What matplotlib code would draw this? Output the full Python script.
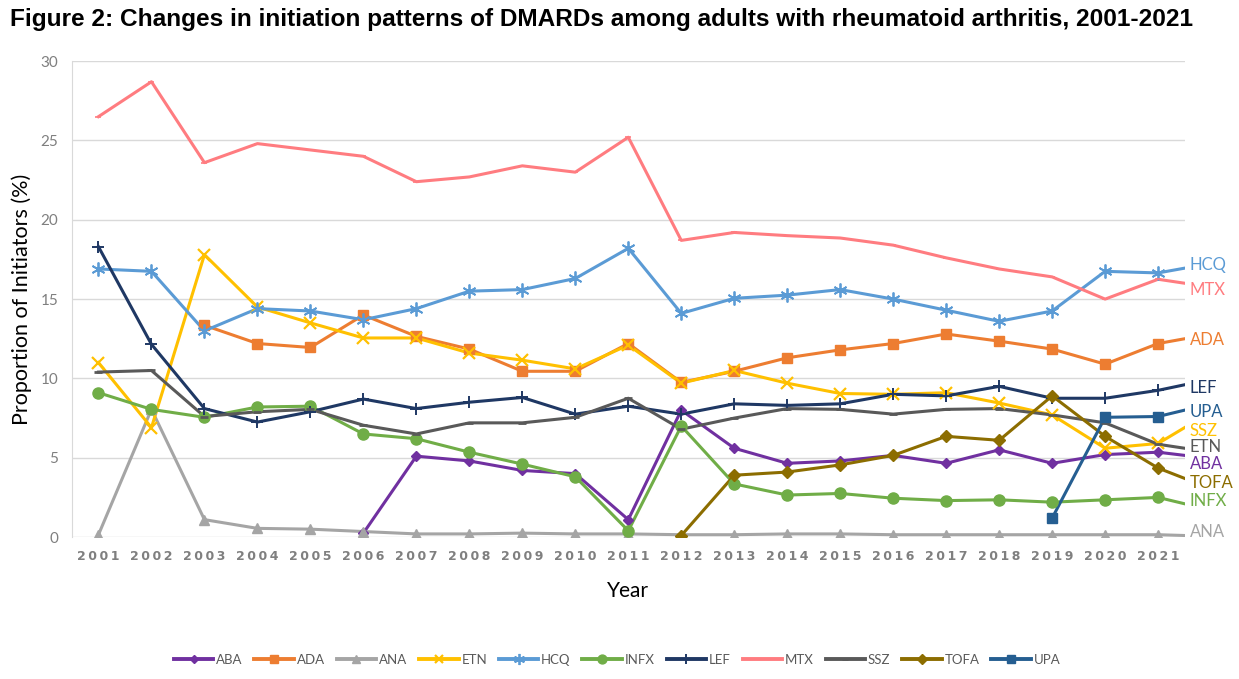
import numpy as np
import matplotlib
matplotlib.use('Agg')
import matplotlib.pyplot as plt

# values (proportion of initiators, %)
years = list(range(2001, 2022))

ABA = [None] * 5 + [0.25, 5.1, 4.8, 4.2, 4.0, 1.1, 8.0, 5.6, 4.65, 4.8, 5.15, 4.65, 5.5, 4.65, 5.2, 5.35]
ADA = [None] * 2 + [13.35, 12.2, 11.95, 14.0, 12.65, 11.85, 10.45, 10.45, 12.2, 9.75, 10.45, 11.3, 11.8,
                    12.2, 12.8, 12.35, 11.85, 10.9, 12.2]
ANA = [0.15, 8.05, 1.1, 0.55, 0.5, 0.35, 0.2, 0.2, 0.25, 0.2, 0.2, 0.15, 0.15, 0.2, 0.2, 0.15, 0.15,
       0.15, 0.15, 0.15, 0.15]
ETN = [11.0, 6.9, 17.8, 14.5, 13.5, 12.55, 12.55, 11.6, 11.15, 10.6, 12.1, 9.7, 10.5, 9.7, 9.05, 9.0,
       9.1, 8.45, 7.7, 5.6, 5.9]
HCQ = [16.9, 16.75, 13.0, 14.4, 14.25, 13.7, 14.4, 15.5, 15.6, 16.3, 18.2, 14.1, 15.05, 15.25, 15.6,
       15.0, 14.3, 13.6, 14.25, 16.75, 16.65]
INFX = [9.1, 8.05, 7.55, 8.2, 8.25, 6.5, 6.2, 5.35, 4.6, 3.8, 0.4, 7.0, 3.35, 2.65, 2.75, 2.45, 2.3,
        2.35, 2.2, 2.35, 2.5]
LEF = [18.3, 12.15, 8.1, 7.25, 7.9, 8.7, 8.1, 8.5, 8.8, 7.75, 8.25, 7.75, 8.4, 8.3, 8.4, 9.0, 8.9,
       9.5, 8.75, 8.75, 9.25]
MTX = [26.5, 28.7, 23.6, 24.8, 24.4, 24.0, 22.4, 22.7, 23.4, 23.0, 25.2, 18.7, 19.2, 19.0, 18.85,
       18.4, 17.6, 16.9, 16.4, 15.0, 16.25]
SSZ = [10.4, 10.5, 7.6, 7.9, 8.05, 7.05, 6.5, 7.2, 7.2, 7.55, 8.75, 6.8, 7.5, 8.1, 8.05, 7.75, 8.05,
       8.1, 7.7, 7.2, 5.85]
TOFA = [None] * 11 + [0.1, 3.9, 4.1, 4.55, 5.15, 6.35, 6.1, 8.9, 6.35, 4.35]
UPA = [None] * 18 + [1.2, 7.55, 7.6]

# each line runs on a little past 2021 to the right edge, where the label sits
tail_x = 2021.5
tail = {'ABA': 5.15, 'ADA': 12.5, 'ANA': 0.1, 'ETN': 6.9, 'HCQ': 16.95, 'INFX': 2.1, 'LEF': 9.6,
        'MTX': 16.0, 'SSZ': 5.6, 'TOFA': 3.7, 'UPA': 8.0}

series = {'ABA': ABA, 'ADA': ADA, 'ANA': ANA, 'ETN': ETN, 'HCQ': HCQ, 'INFX': INFX,
          'LEF': LEF, 'MTX': MTX, 'SSZ': SSZ, 'TOFA': TOFA, 'UPA': UPA}

styles = {
    'ABA': dict(color='#7030A0', marker='D', ms=5.5),
    'ADA': dict(color='#ED7D31', marker='s', ms=7.5),
    'ANA': dict(color='#A5A5A5', marker='^', ms=7.5),
    'ETN': dict(color='#FFC000', marker='x', ms=8, mew=1.6),
    'HCQ': dict(color='#5B9BD5', marker=(6, 2, 0), ms=10, mew=1.3),
    'INFX': dict(color='#70AD47', marker='o', ms=8),
    'LEF': dict(color='#1F3864', marker='+', ms=9, mew=1.4),
    'MTX': dict(color='#FF7C80', marker='_', ms=4, mew=1.2),
    'SSZ': dict(color='#595959', marker='_', ms=6, mew=2),
    'TOFA': dict(color='#8C6D00', marker='D', ms=6),
    'UPA': dict(color='#255E91', marker='s', ms=7.5),
}

# right-hand labels as placed in the original (note SSZ/ETN text swapped there)
end_labels = [('HCQ', 17.15, '#5B9BD5'), ('MTX', 15.55, '#FF7C80'), ('ADA', 12.4, '#ED7D31'),
              ('LEF', 9.4, '#1F3864'), ('UPA', 7.9, '#255E91'), ('SSZ', 6.7, '#FFC000'),
              ('ETN', 5.65, '#595959'), ('ABA', 4.6, '#7030A0'), ('TOFA', 3.4, '#8C6D00'),
              ('INFX', 2.3, '#70AD47'), ('ANA', 0.3, '#A5A5A5')]

plt.rcParams['font.family'] = ['Lato', 'DejaVu Sans']

fig = plt.figure(figsize=(12.39, 6.79), dpi=100)
ax = fig.add_axes([0.0581, 0.209, 0.898, 0.701])

for name, vals in series.items():
    x = [y for y, v in zip(years, vals) if v is not None]
    y = [v for v in vals if v is not None]
    st = styles[name]
    ax.plot(x + [tail_x], y + [tail[name]], color=st['color'], lw=2.2, zorder=3)
    ax.plot(x, y, linestyle='none', marker=st['marker'], ms=st['ms'], color=st['color'],
            mew=st.get('mew', 1), zorder=4)
    # legend proxy
    ax.plot([], [], color=st['color'], lw=2.8, marker=st['marker'], ms=st['ms'] * 0.8,
            mew=st.get('mew', 1), label=name)

for text, yv, col in end_labels:
    ax.text(2021.6, yv, text, color=col, fontsize=12, va='center', ha='left', clip_on=False)

ax.set_xlim(2000.5, 2021.5)
ax.set_ylim(0, 30)
ax.set_yticks([0, 5, 10, 15, 20, 25, 30])
ax.set_xticks(years)
ax.set_xticklabels(['\u2009'.join(str(y)) for y in years], fontsize=9, color='#7F7F7F',
                   fontweight='bold', family=['DejaVu Sans'])
ax.tick_params(axis='y', labelsize=11, colors='#7F7F7F', length=0, pad=10)
ax.tick_params(axis='x', length=0, pad=9)
ax.grid(axis='y', color='#D9D9D9', lw=1)
ax.set_axisbelow(True)
for s in ['top', 'right', 'bottom']:
    ax.spines[s].set_visible(False)
ax.spines['left'].set_color('#D9D9D9')

ax.set_ylabel('Proportion of Initiators (%)', fontsize=15.5, labelpad=6)
ax.set_xlabel('Year', fontsize=15, labelpad=13)

fig.text(0.008, 0.972, 'Figure 2: Changes in initiation patterns of DMARDs among adults with rheumatoid '
         'arthritis, 2001-2021', fontsize=17.6, fontweight='bold', family=['Liberation Sans'],
         va='center', ha='left')

leg = fig.legend(loc='center', bbox_to_anchor=(0.498, 0.028), ncol=11, frameon=False, fontsize=9.5,
                 handlelength=3.0, handletextpad=0.2, columnspacing=0.9)
for t in leg.get_texts():
    t.set_color('#595959')

fig.savefig('out.png', dpi=100)
